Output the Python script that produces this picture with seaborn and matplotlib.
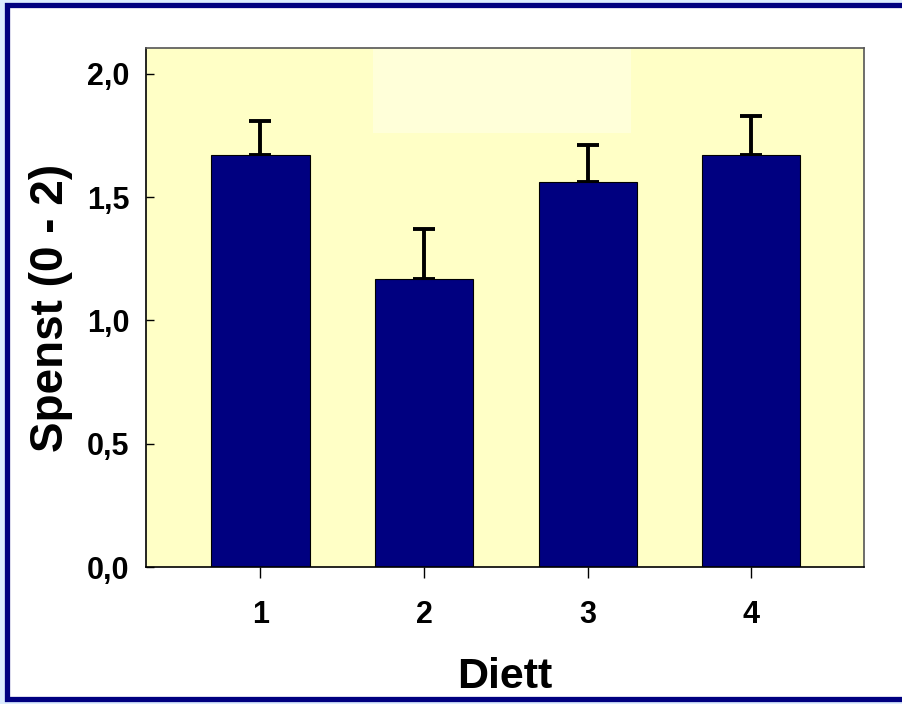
import numpy as np
import pandas as pd
import matplotlib
matplotlib.use("Agg")
import matplotlib.pyplot as plt
import matplotlib.patches as mpatches
import seaborn as sns

# Data
diett = ["1", "2", "3", "4"]
spenst = [1.67, 1.17, 1.56, 1.67]
feil = [0.14, 0.20, 0.15, 0.16]

df = pd.DataFrame({"Diett": diett, "Spenst": spenst})

sns.set_style("ticks")
plt.rcParams["font.family"] = ["Liberation Sans", "DejaVu Sans"]
plt.rcParams["font.weight"] = "bold"
plt.rcParams["text.color"] = "black"
plt.rcParams["axes.labelcolor"] = "black"
plt.rcParams["xtick.color"] = "black"
plt.rcParams["ytick.color"] = "black"

fig = plt.figure(figsize=(9.03, 7.04), dpi=100)
fig.patch.set_facecolor("#dcecff")

# White panel with navy frame
frame = mpatches.Rectangle((7 / 903, 5 / 704), 1.2, 694 / 704,
                           transform=fig.transFigure, facecolor="white",
                           edgecolor="#000080", linewidth=3.8, zorder=-10)
fig.add_artist(frame)

ax = fig.add_axes([146 / 903, 137 / 704, 718 / 903, 519 / 704])
ax.set_zorder(1)
ax.set_facecolor("#ffffc6")

# faint lighter patch in the background
ax.add_patch(mpatches.Rectangle((0.316, 0.837), 0.36, 0.163,
                                transform=ax.transAxes, facecolor="#ffffd9",
                                edgecolor="none", zorder=0))

sns.barplot(data=df, x="Diett", y="Spenst", color="#000080",
            saturation=1, width=0.6, errorbar=None, edgecolor="black",
            linewidth=0.8, ax=ax, zorder=2)

ax.errorbar(x=np.arange(len(diett)), y=spenst,
            yerr=[np.zeros(len(feil)), feil], fmt="none", ecolor="black",
            elinewidth=2.8, capsize=8, capthick=2.8, zorder=1)

ax.set_xlim(-0.7, 3.69)
ax.set_ylim(0, 2.105)
ax.set_yticks([0, 0.5, 1.0, 1.5, 2.0])
ax.set_yticklabels(["0,0", "0,5", "1,0", "1,5", "2,0"])

ax.tick_params(axis="y", direction="in", length=6, width=1, pad=12,
               labelsize=22, labelcolor="black")
ax.tick_params(axis="x", direction="out", length=8, width=1, pad=16,
               labelsize=22, labelcolor="black")
for lab in ax.get_xticklabels() + ax.get_yticklabels():
    lab.set_fontweight("bold")

for side in ["top", "right"]:
    ax.spines[side].set_color("#555555")
    ax.spines[side].set_linewidth(1.2)
for side in ["left", "bottom"]:
    ax.spines[side].set_color("black")
    ax.spines[side].set_linewidth(1.2)

ax.set_xlabel("Diett", fontsize=31, fontweight="bold", labelpad=19,
              color="black")
ax.set_ylabel("Spenst (0 - 2)", fontsize=33, fontweight="bold", labelpad=10,
              color="black")

plt.savefig("out.png", dpi=100, facecolor=fig.get_facecolor())
